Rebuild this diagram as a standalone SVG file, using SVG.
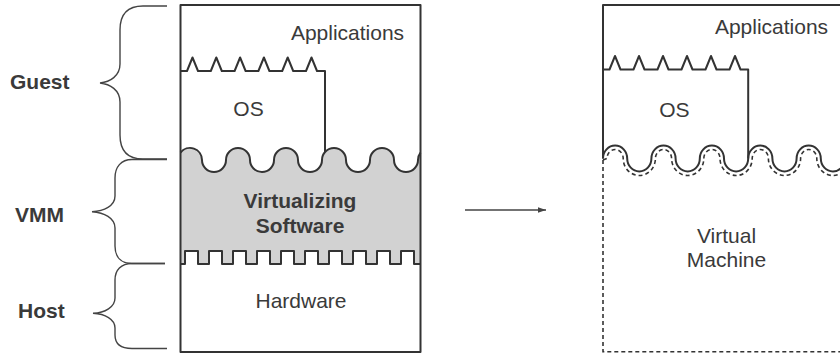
<svg xmlns="http://www.w3.org/2000/svg" width="840" height="354" viewBox="0 0 840 354">
<style>
  .t { font-family: "Liberation Sans", Arial, Helvetica, sans-serif; font-size: 21px; fill: #3a3a3a; }
  .b { font-weight: bold; }
  .ln { fill: none; stroke: #333; stroke-width: 2; stroke-linejoin: round; }
  .br { fill: none; stroke: #444; stroke-width: 1.4; }
  .ds { fill: none; stroke: #333; stroke-width: 1.6; stroke-dasharray: 4 3; }
</style>
<defs>
  <marker id="ah" viewBox="0 0 10 10" refX="10" refY="5" markerWidth="8" markerHeight="8" markerUnits="userSpaceOnUse" orient="auto">
    <path d="M0,1.5 L10,5 L0,8.5 Z" fill="#444"/>
  </marker>
</defs>

<g id="labels">
  <g id="guest"><path class="br" d="M167,6 H143 C128,6 120,14 120,30 V64 C120,76 110,82 100,83 C110,84 120,90 120,102 V135 C120,151 128,159 143,159 H167"/>
    <text class="t b" x="10" y="89">Guest</text></g>
  <g id="vmm"><path class="br" d="M167,159.5 H132 C121,159.5 115,167 115,178 V196 C115,206 104,211 92,211.7 C104,212.5 115,218 115,228 V246 C115,257 121,263.5 132,263.5 H165"/>
    <text class="t b" x="15" y="221.5">VMM</text></g>
  <g id="host"><path class="br" d="M165,263.5 H132 C121,263.5 115,270 115,280 V298 C115,307 105,313 93,313.3 C105,314 115,319 115,328 V335 C115,344 121,348.5 132,348.5 H167"/>
    <text class="t b" x="18" y="318">Host</text></g>
</g>

<g id="left-system">
  <g id="virtualizing-software">
    <path fill="#d2d2d2" d="M180.5,152.67 A12,12 0 0 1 202,160 A12,12 0 0 0 226,160 A12,12 0 0 1 250,160 A12,12 0 0 0 274,160 A12,12 0 0 1 298,160 A12,12 0 0 0 322,160 A12,12 0 0 1 346,160 A12,12 0 0 0 370,160 A12,12 0 0 1 394,160 A12,12 0 0 0 418,160 A12,12 0 0 1 420.5,152.67 L420.5,264 H414 V251 H401 V264 H390 V251 H377 V264 H366 V251 H353 V264 H342 V251 H329 V264 H318 V251 H305 V264 H294 V251 H281 V264 H270 V251 H257 V264 H246 V251 H233 V264 H222 V251 H209 V264 H198 V251 H185 V264 H180.5 Z"/>
    <path class="ln" d="M180.5,152.67 A12,12 0 0 1 202,160 A12,12 0 0 0 226,160 A12,12 0 0 1 250,160 A12,12 0 0 0 274,160 A12,12 0 0 1 298,160 A12,12 0 0 0 322,160 A12,12 0 0 1 346,160 A12,12 0 0 0 370,160 A12,12 0 0 1 394,160 A12,12 0 0 0 418,160 A12,12 0 0 1 420.5,152.67"/>
    <path class="ln" d="M180.5,264 H185 V251 H198 V264 H209 V251 H222 V264 H233 V251 H246 V264 H257 V251 H270 V264 H281 V251 H294 V264 H305 V251 H318 V264 H329 V251 H342 V264 H353 V251 H366 V264 H377 V251 H390 V264 H401 V251 H414 V264 H420.5"/>
    <text class="t b" x="300" y="208" text-anchor="middle">Virtualizing</text>
    <text class="t b" x="300" y="232.5" text-anchor="middle">Software</text>
  </g>
  <g id="os">
    <path class="ln" d="M180.5,71 H187 L192.5,57.5 L198,71 H210.8 L216.3,57.5 L221.8,71 H234.6 L240.1,57.5 L245.6,71 H258.4 L263.9,57.5 L269.4,71 H282.2 L287.7,57.5 L293.2,71 H306 L311.5,57.5 L317,71 H325 V152"/>
    <text class="t" x="248.5" y="116" text-anchor="middle">OS</text>
  </g>
  <g id="applications">
    <text class="t" x="347.5" y="40" text-anchor="middle">Applications</text>
  </g>
  <g id="hardware">
    <text class="t" x="301" y="308" text-anchor="middle">Hardware</text>
  </g>
  <rect class="ln" x="180.5" y="5" width="240" height="347"/>
</g>

<g id="connectors">
  <line x1="465" y1="210" x2="546" y2="210" stroke="#444" stroke-width="1.3" marker-end="url(#ah)"/>
</g>

<g id="right-system">
  <g id="vm-applications">
    <path class="ln" d="M603,158.5 V5 H842"/>
    <text class="t" x="771.5" y="33.5" text-anchor="middle">Applications</text>
  </g>
  <g id="vm-os">
    <path class="ln" d="M603,69.5 H609.5 L615,56 L620.5,69.5 H633.5 L639,56 L644.5,69.5 H657.5 L663,56 L668.5,69.5 H681.5 L687,56 L692.5,69.5 H705.5 L711,56 L716.5,69.5 H729.5 L735,56 L740.5,69.5 H748.2 V158.5"/>
    <text class="t" x="674.3" y="116.5" text-anchor="middle">OS</text>
  </g>
  <g id="virtual-machine">
    <path class="ln" d="M603,158.5 A12.1,13 0 0 1 627.2,158.5 A12.1,13 0 0 0 651.4,158.5 A12.1,13 0 0 1 675.6,158.5 A12.1,13 0 0 0 699.8,158.5 A12.1,13 0 0 1 724,158.5 A12.1,13 0 0 0 748.2,158.5 A12.1,13 0 0 1 772.4,158.5 A12.1,13 0 0 0 796.6,158.5 A12.1,13 0 0 1 820.8,158.5 A12.1,13 0 0 0 845,158.5"/>
    <path class="ds" d="M603,160 L607,158.5 A8.1,9 0 0 1 623.2,158.5 A16.1,17 0 0 0 655.4,158.5 A8.1,9 0 0 1 671.6,158.5 A16.1,17 0 0 0 703.8,158.5 A8.1,9 0 0 1 720,158.5 A16.1,17 0 0 0 752.2,158.5 A8.1,9 0 0 1 768.4,158.5 A16.1,17 0 0 0 800.6,158.5 A8.1,9 0 0 1 816.8,158.5 A16.1,17 0 0 0 849,158.5"/>
    <path class="ds" d="M603,160 V351.7 H842"/>
    <text class="t" x="726.5" y="242.5" text-anchor="middle">Virtual</text>
    <text class="t" x="726.5" y="267.3" text-anchor="middle">Machine</text>
  </g>
</g>
</svg>
